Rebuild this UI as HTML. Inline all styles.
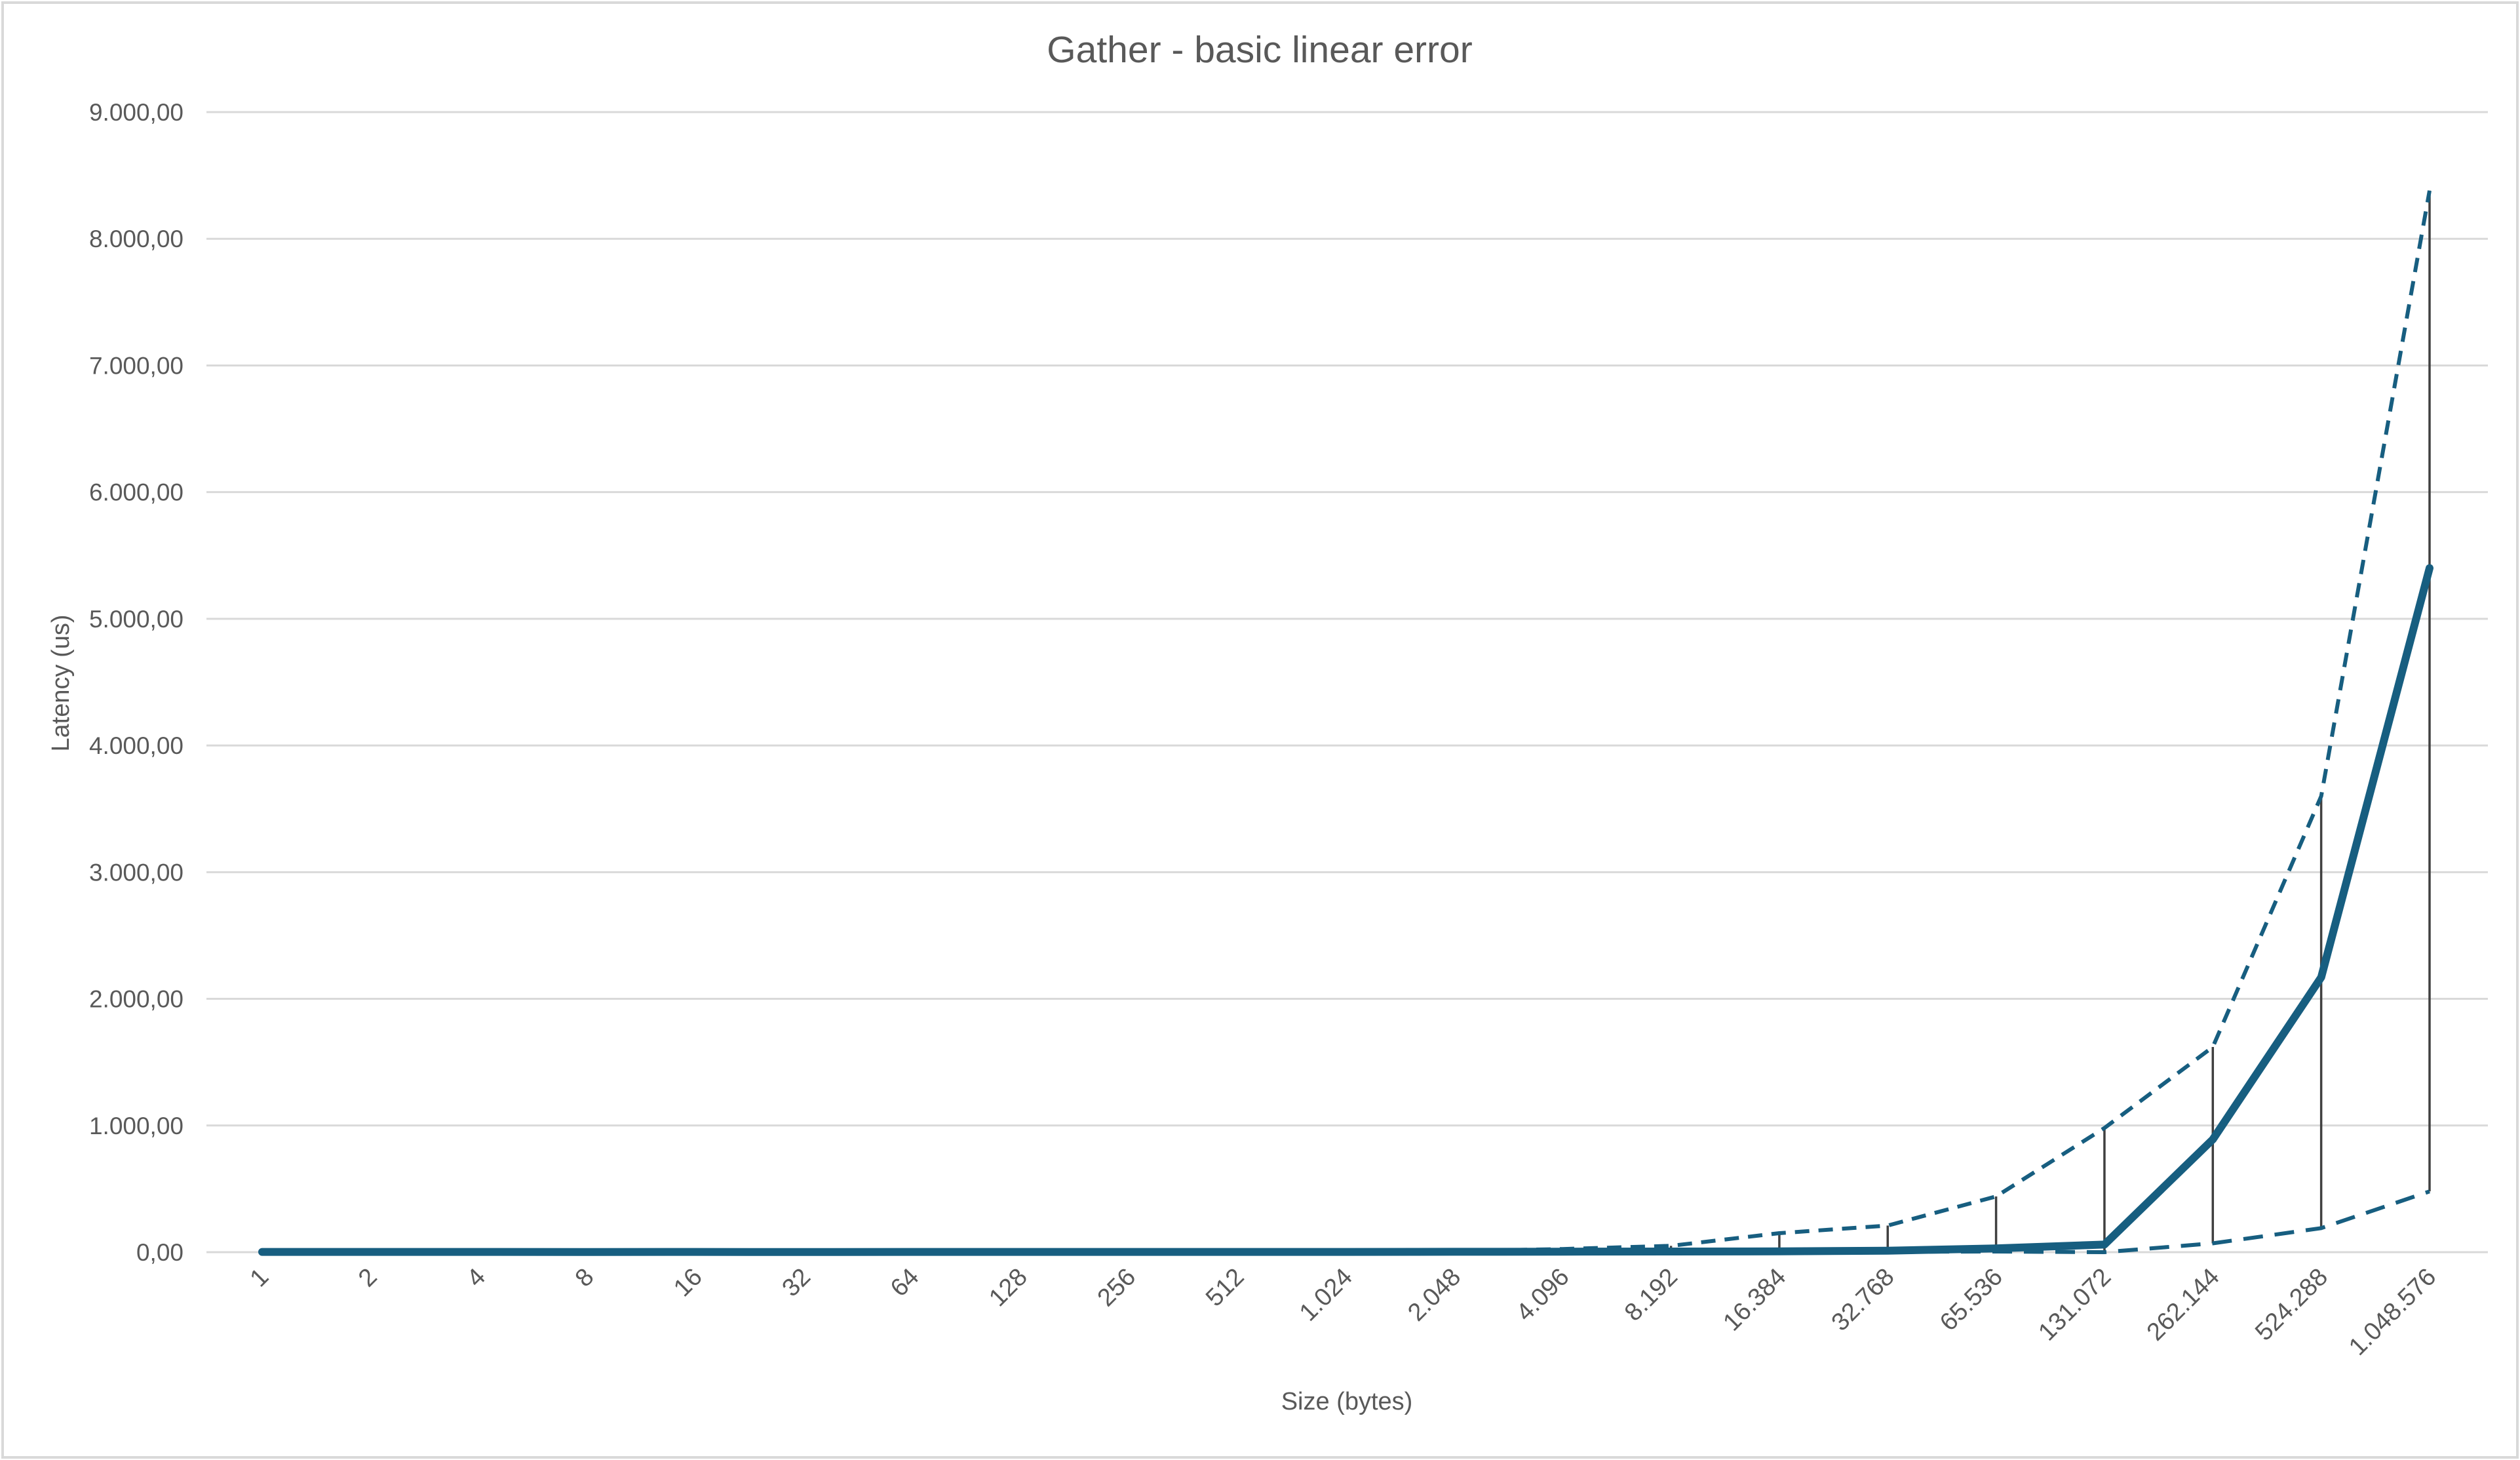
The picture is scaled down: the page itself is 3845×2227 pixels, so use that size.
<!DOCTYPE html>
<html><head><meta charset="utf-8"><style>
html,body{margin:0;padding:0;background:#fff}
svg{display:block;font-family:"Liberation Sans",sans-serif}
</style></head><body>
<svg id="chart" width="3845" height="2227" viewBox="0 0 3845 2227">
<rect x="4" y="4" width="3837" height="2219" fill="#fff" stroke="#d9d9d9" stroke-width="4"/>
<text x="1922" y="95" text-anchor="middle" font-size="57" fill="#595959">Gather - basic linear error</text>
<g id="grid"></g>
<g id="ylabels"></g>
<g id="xlabels"></g>
<g id="series"></g>
<text transform="translate(105,1042) rotate(-90)" text-anchor="middle" font-size="38" fill="#595959">Latency (us)</text>
<text x="2055" y="2150" text-anchor="middle" font-size="38" fill="#595959">Size (bytes)</text>
</svg>
<script>
const categories=["1","2","4","8","16","32","64","128","256","512","1.024","2.048","4.096","8.192","16.384","32.768","65.536","131.072","262.144","524.288","1.048.576"];
const meanValues=[2,2,2,1,2,1,2,2,2,2,2,3,4,5,6,12,30,60,890,2170,5400];
const upperValues=[3,3,3,2,3,2,3,3,3,3,4,8,25,50,150,210,440,980,1620,3600,8380];
const lowerValues=[1,1,1,0,1,0,1,1,1,1,1,1,1,1,2,3,5,0,70,190,480];
const yTicks=[0,1000,2000,3000,4000,5000,6000,7000,8000,9000];
const yTickLabels=["0,00","1.000,00","2.000,00","3.000,00","4.000,00","5.000,00","6.000,00","7.000,00","8.000,00","9.000,00"];

const NS="http://www.w3.org/2000/svg";
const L=315,R=3796,Y0=1910,Y9=171;
const X0=400,X1=3707;
function xPos(i){return X0+(X1-X0)*i/(categories.length-1);}
function yPos(v){return Y0-(v/9000)*(Y0-Y9);}
function mk(tag,attrs,parent){const e=document.createElementNS(NS,tag);for(const k in attrs)e.setAttribute(k,attrs[k]);parent.appendChild(e);return e;}
const grid=document.getElementById('grid'),yl=document.getElementById('ylabels'),xl=document.getElementById('xlabels'),ser=document.getElementById('series');
yTicks.forEach((t,i)=>{
  const g=mk('line',{x1:L,x2:R,y1:yPos(t),y2:yPos(t),stroke:'#d9d9d9','stroke-width':3},grid);
  
  
  const tx=mk('text',{x:280,y:yPos(t)+13,'text-anchor':'end','font-size':37,fill:'#595959'},yl);
  tx.textContent=yTickLabels[i];
  
  
});
categories.forEach((c,i)=>{
  const x=xPos(i)+12,y=1950;
  const tx=mk('text',{transform:`translate(${x},${y}) rotate(-45)`,'text-anchor':'end','font-size':38,fill:'#595959'},xl);
  tx.textContent=c;
  
  
});
categories.forEach((c,i)=>{
  const e=mk('line',{x1:xPos(i),x2:xPos(i),y1:yPos(lowerValues[i]),y2:yPos(upperValues[i]),stroke:'#404040','stroke-width':3.5},ser);
  
  
});
function pts(arr){return arr.map((v,i)=>xPos(i).toFixed(1)+','+yPos(v).toFixed(1)).join(' ');}
const up=mk('polyline',{points:pts(upperValues),fill:'none',stroke:'#175e80','stroke-width':6,'stroke-dasharray':'22 14'},ser);


const lo=mk('polyline',{points:pts(lowerValues),fill:'none',stroke:'#175e80','stroke-width':6,'stroke-dasharray':'30 18'},ser);


const mn=mk('polyline',{points:pts(meanValues),fill:'none',stroke:'#175e80','stroke-width':12,'stroke-linejoin':'round','stroke-linecap':'round'},ser);


</script>
</body></html>
